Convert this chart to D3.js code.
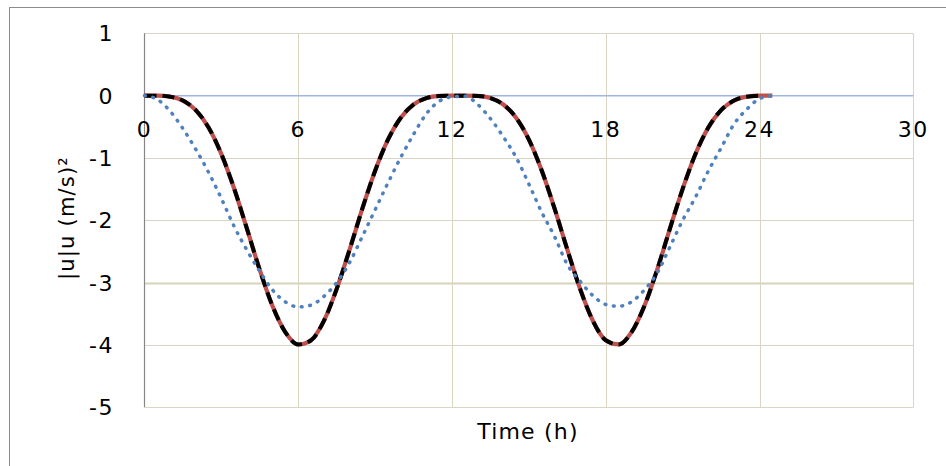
<!DOCTYPE html>
<html lang="en">
<head>
    <meta charset="utf-8">
    <title>|u|u vs time</title>
    <style>
    html, body {
        margin: 0;
        background-color: white;
    }
    svg {
        font-family: 'DejaVu Sans', Verdana, sans-serif;
    }
    .tick-label {
        font-size: 22px;
        fill: black;
        letter-spacing: 1.5px;
    }
    .axis-title {
        font-size: 22px;
        fill: black;
        letter-spacing: 1.2px;
    }
    .grid line {
        stroke: #d9d5c2;
        stroke-width: 1;
    }
    </style>
</head>
<body>
<div id="vis"></div>
<script src="https://d3js.org/d3.v7.min.js"></script>
<script>
// hours
var times = [0, 0.5, 1, 1.5, 2, 2.5, 3, 3.5, 4, 4.5, 5, 5.5, 6, 6.5, 7, 7.5, 8, 8.5, 9, 9.5,
    10, 10.5, 11, 11.5, 12, 12.5, 13, 13.5, 14, 14.5, 15, 15.5, 16, 16.5, 17, 17.5, 18, 18.5, 19, 19.5,
    20, 20.5, 21, 21.5, 22, 22.5, 23, 23.5, 24, 24.5];

// |u|u, solid red
var redValues = [0, -0.001, -0.017, -0.079, -0.232, -0.512, -0.938, -1.494, -2.139, -2.799,
    -3.380, -3.798, -3.992, -3.924, -3.614, -3.100, -2.475, -1.814, -1.205, -0.707,
    -0.355, -0.142, -0.040, -0.005, 0, 0, -0.005, -0.039, -0.142, -0.354,
    -0.706, -1.202, -1.810, -2.471, -3.103, -3.615, -3.925, -3.992, -3.799, -3.379,
    -2.799, -2.137, -1.496, -0.937, -0.513, -0.232, -0.079, -0.017, -0.001, 0];

// black dashed (same curve, stops at 24 h)
var blackValues = [0, -0.001, -0.017, -0.079, -0.232, -0.512, -0.938, -1.494, -2.139, -2.799,
    -3.380, -3.798, -3.992, -3.924, -3.614, -3.100, -2.475, -1.814, -1.205, -0.707,
    -0.355, -0.142, -0.040, -0.005, 0, 0, -0.005, -0.039, -0.142, -0.354,
    -0.706, -1.202, -1.810, -2.471, -3.103, -3.615, -3.925, -3.992, -3.799, -3.379,
    -2.799, -2.137, -1.496, -0.937, -0.513, -0.232, -0.079, -0.017, -0.001];

// blue dotted
var blueValues = [0, -0.06, -0.25, -0.53, -0.86, -1.23, -1.65, -2.10, -2.48, -2.82,
    -3.12, -3.31, -3.39, -3.36, -3.22, -3.00, -2.68, -2.26, -1.83, -1.40,
    -0.99, -0.62, -0.29, -0.09, -0.02, -0.01, -0.14, -0.37, -0.66, -0.99,
    -1.42, -1.87, -2.26, -2.71, -2.98, -3.21, -3.35, -3.38, -3.31, -3.12,
    -2.85, -2.43, -2.00, -1.63, -1.21, -0.84, -0.46, -0.22, -0.05, 0];

var xTicks = [0, 6, 12, 18, 24, 30];
var yTicks = [1, 0, -1, -2, -3, -4, -5];

var width = 946;
var height = 466;

var svg = d3.select('#vis')
    .append('svg')
    .attr('width', width)
    .attr('height', height);

// outer chart frame (right and bottom run past the picture)
svg.append('rect')
    .attr('x', 9.5)
    .attr('y', 7.5)
    .attr('width', 960)
    .attr('height', 480)
    .attr('fill', 'white')
    .attr('stroke', '#8c8c8c');

var x_scale = d3.scaleLinear()
    .domain([0, 30])
    .range([144.5, 913.3]);

var y_scale = d3.scaleLinear()
    .domain([-5, 1])
    .range([407.3, 33.3]);

// horizontal grid
var hGrid = svg.append('g').attr('class', 'grid');
hGrid.selectAll('line')
    .data(yTicks.filter(function(d) { return d !== 0; }))
    .enter()
    .append('line')
    .attr('x1', x_scale(0))
    .attr('x2', x_scale(30))
    .attr('y1', function(d) { return Math.round(y_scale(d)) + 0.5; })
    .attr('y2', function(d) { return Math.round(y_scale(d)) + 0.5; })
    .style('stroke-width', function(d) { return d === -3 ? 2 : 1; })
    .style('stroke', function(d) { return d === -3 ? '#d8d4ba' : null; });

// vertical grid
var vGrid = svg.append('g').attr('class', 'grid');
vGrid.selectAll('line')
    .data(xTicks.filter(function(d) { return d !== 0; }))
    .enter()
    .append('line')
    .attr('x1', function(d) { return Math.round(x_scale(d)) + 0.5; })
    .attr('x2', function(d) { return Math.round(x_scale(d)) + 0.5; })
    .attr('y1', y_scale(1))
    .attr('y2', y_scale(-5));

// y axis line
svg.append('line')
    .attr('x1', 144.5)
    .attr('x2', 144.5)
    .attr('y1', y_scale(1))
    .attr('y2', y_scale(-5))
    .attr('stroke', '#868686')
    .attr('stroke-width', 1.2);

// x axis at zero
svg.append('line')
    .attr('x1', x_scale(0))
    .attr('x2', x_scale(30))
    .attr('y1', y_scale(0))
    .attr('y2', y_scale(0))
    .attr('stroke', '#9db6e2')
    .attr('stroke-width', 1.5);

// tick labels
svg.append('g')
    .selectAll('text')
    .data(yTicks)
    .enter()
    .append('text')
    .attr('class', 'tick-label')
    .attr('x', 114)
    .attr('y', function(d) { return y_scale(d); })
    .attr('dy', '0.36em')
    .attr('text-anchor', 'end')
    .text(function(d) { return d; });

svg.append('g')
    .selectAll('text')
    .data(xTicks)
    .enter()
    .append('text')
    .attr('class', 'tick-label')
    .attr('x', function(d) { return x_scale(d); })
    .attr('y', y_scale(0) + 33)
    .attr('dy', '0.36em')
    .attr('text-anchor', 'middle')
    .text(function(d) { return d; });

// axis titles
svg.append('text')
    .attr('class', 'axis-title')
    .attr('x', 528)
    .attr('y', 431)
    .attr('dy', '0.36em')
    .attr('text-anchor', 'middle')
    .text('Time (h)');

svg.append('text')
    .attr('class', 'axis-title')
    .attr('transform', 'translate(66,218) rotate(-90)')
    .attr('dy', '0.36em')
    .attr('text-anchor', 'middle')
    .style('font-size', '21px')
    .text('|u|u (m/s)²');

// series
var line = d3.line()
    .x(function(d) { return x_scale(d[0]); })
    .y(function(d) { return y_scale(d[1]); })
    .curve(d3.curveMonotoneX);

function pairs(values) {
    return values.map(function(v, i) { return [times[i], v]; });
}

svg.append('path')
    .datum(pairs(redValues))
    .attr('d', line)
    .attr('fill', 'none')
    .attr('stroke', '#c0504d')
    .attr('stroke-width', 4.2);

svg.append('path')
    .datum(pairs(blackValues))
    .attr('d', line)
    .attr('fill', 'none')
    .attr('stroke', 'black')
    .attr('stroke-width', 4)
    .attr('stroke-dasharray', '12,6');

svg.append('path')
    .datum(pairs(blueValues))
    .attr('d', line)
    .attr('fill', 'none')
    .attr('stroke', '#4f81bd')
    .attr('stroke-width', 3.5)
    .attr('stroke-linecap', 'round')
    .attr('stroke-dasharray', '0.8,7.7');
</script>
</body>
</html>
